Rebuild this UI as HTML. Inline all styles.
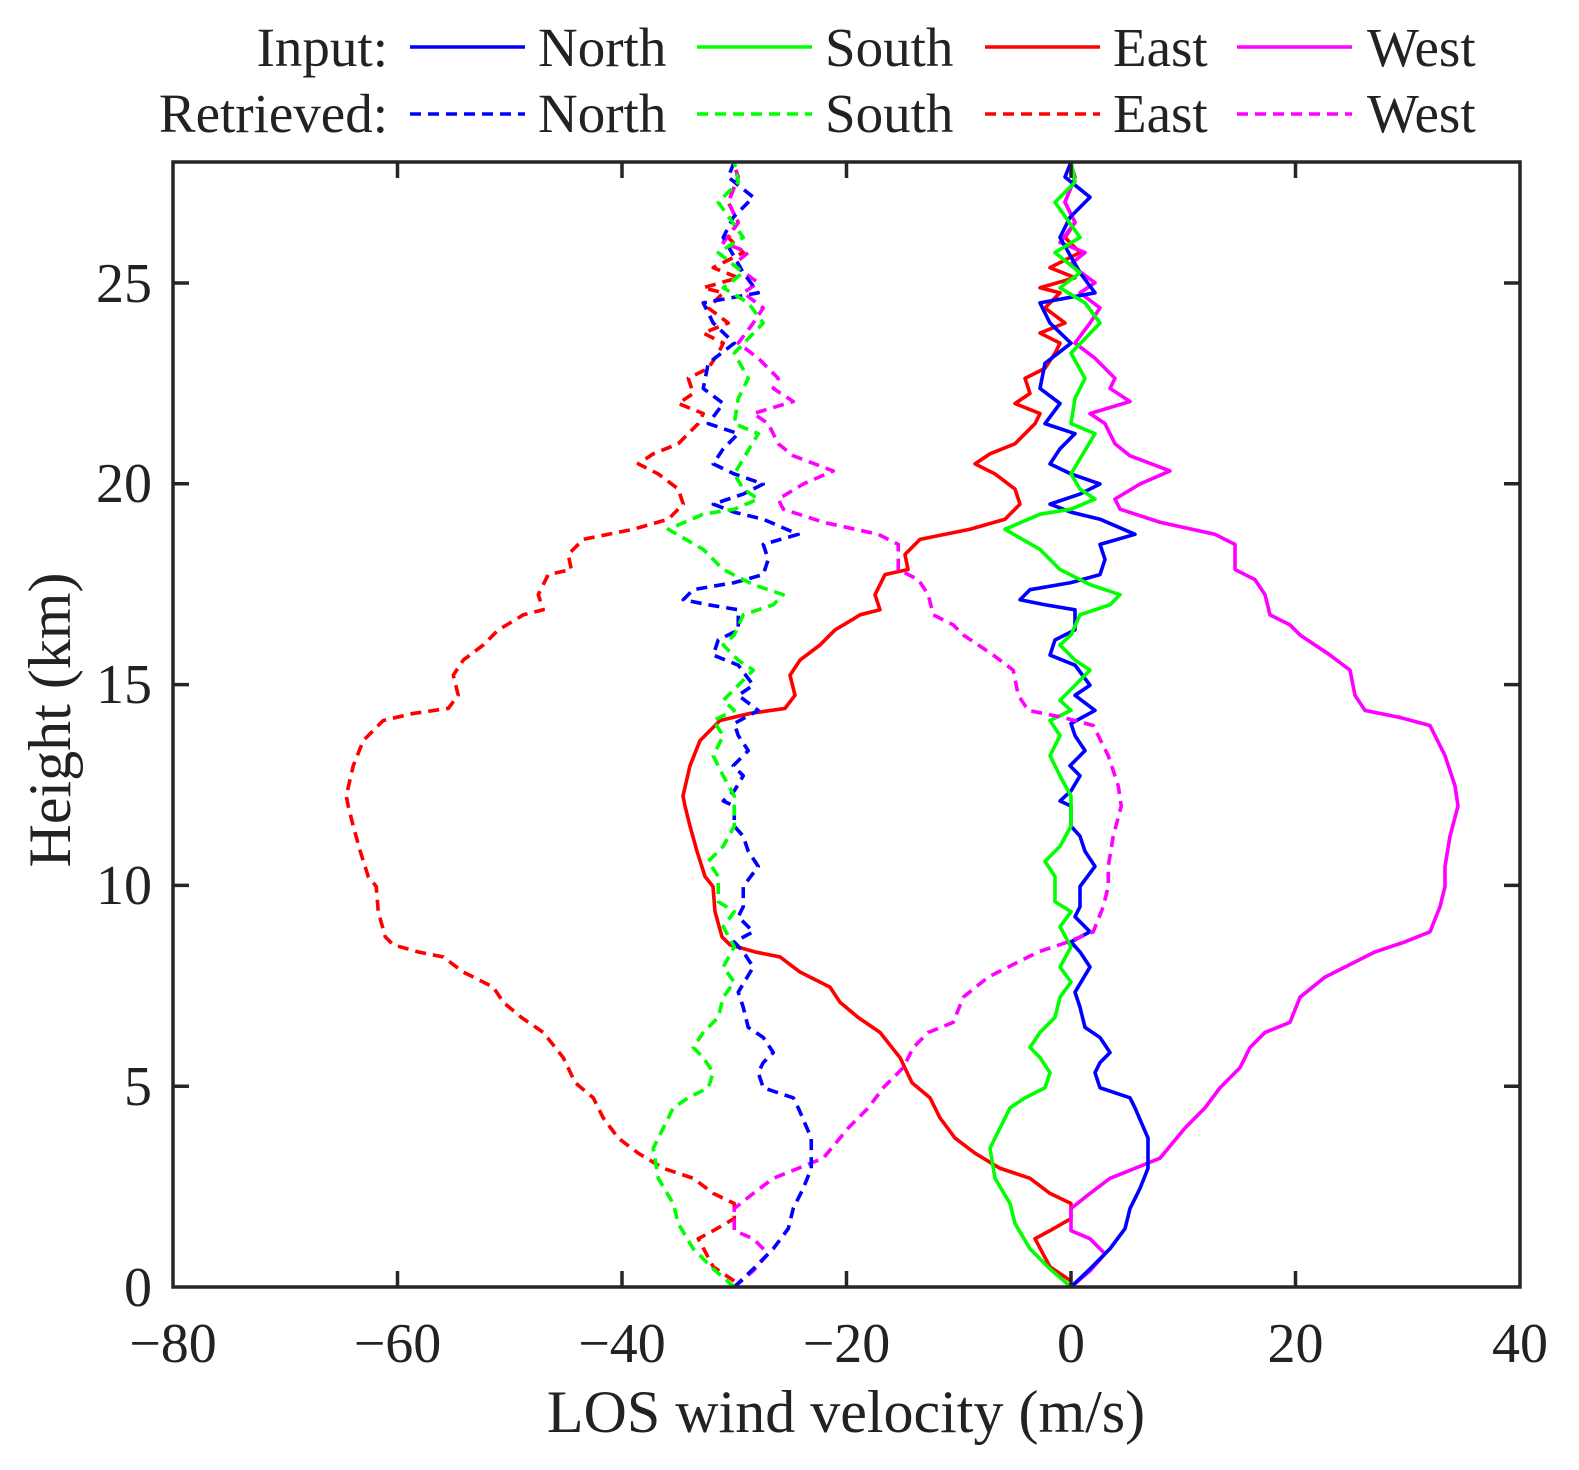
<!DOCTYPE html>
<html><head><meta charset="utf-8"><style>html,body{margin:0;padding:0;background:#fff}svg{display:block}</style></head>
<body>
<svg width="1579" height="1470" viewBox="0 0 1579 1470" xmlns="http://www.w3.org/2000/svg" font-family="Liberation Serif, serif" fill="#222">
<defs>
<g id="curves" fill="none" stroke-width="3.6" stroke-linejoin="round">
<polyline id="east" stroke="#ff0000" points="1071,1272 1050,1258 1035,1230 1050,1222 1071,1210 1071,1195 1050,1185 1030,1170 1000,1160 975,1145 955,1130 940,1110 930,1090 912,1075 900,1050 880,1025 858,1010 840,995 830,980 800,965 780,950 755,945 730,938 722,930 715,905 713,880 705,870 697,845 690,820 685,800 683,790 690,760 700,735 720,715 750,708 785,703 795,690 790,670 800,655 820,640 835,625 852,615 860,610 880,605 875,590 885,570 908,565 905,550 920,535 970,525 1005,515 1020,500 1015,485 995,470 975,460 990,450 1015,440 1025,430 1035,420 1040,410 1015,400 1030,390 1025,375 1045,365 1055,350 1060,340 1040,330 1065,320 1045,305 1060,290 1040,285 1075,275 1050,265 1080,250 1065,235 1075,220 1065,200 1075,175 1070,160"/>
<polyline stroke="#ff00ff" points="1071,1278 1090,1262 1105,1245 1090,1230 1071,1222 1071,1200 1090,1185 1110,1170 1135,1160 1160,1150 1185,1120 1205,1100 1220,1080 1240,1060 1250,1040 1265,1025 1290,1015 1300,990 1325,970 1345,960 1375,945 1405,935 1430,925 1440,900 1445,880 1445,860 1450,830 1458,800 1455,780 1445,750 1430,720 1400,712 1365,705 1355,690 1350,665 1330,650 1300,630 1290,620 1270,610 1265,590 1255,575 1235,565 1235,540 1215,530 1160,518 1120,505 1115,495 1140,480 1170,467 1130,452 1115,440 1105,420 1090,410 1130,398 1110,385 1115,375 1095,355 1075,340 1090,320 1100,305 1080,290 1095,280 1070,262 1085,250 1060,240 1075,220 1065,200 1075,175 1070,160"/>
<polyline stroke="#0000ff" points="1071,1278 1090,1260 1110,1240 1125,1220 1130,1200 1140,1180 1148,1160 1148,1130 1135,1100 1130,1090 1100,1080 1095,1065 1100,1055 1110,1045 1100,1030 1085,1020 1080,1000 1075,985 1090,960 1080,945 1071,935 1090,925 1075,910 1080,900 1080,880 1095,860 1085,845 1080,830 1071,820 1071,800 1060,795 1071,785 1080,770 1070,760 1085,745 1075,730 1071,718 1095,705 1075,690 1090,680 1075,660 1050,650 1055,635 1075,625 1075,605 1045,600 1020,595 1030,585 1071,578 1100,570 1105,555 1100,540 1135,530 1100,515 1071,508 1050,500 1080,490 1100,480 1071,470 1050,460 1060,445 1075,430 1045,420 1060,400 1040,385 1045,360 1071,340 1050,320 1040,300 1095,290 1080,270 1060,235 1070,215 1090,195 1065,175 1071,160"/>
<polyline stroke="#00ff00" points="1071,1278 1050,1260 1030,1240 1015,1215 1010,1195 995,1170 990,1140 1000,1120 1010,1100 1025,1090 1045,1080 1050,1065 1040,1050 1030,1040 1040,1025 1055,1010 1060,990 1071,975 1060,960 1071,940 1060,920 1071,905 1055,895 1055,870 1045,855 1060,840 1071,820 1071,790 1060,770 1050,750 1060,730 1050,715 1071,705 1060,695 1075,680 1090,665 1075,655 1060,640 1071,630 1080,610 1110,600 1120,590 1090,580 1060,565 1040,545 1005,525 1040,510 1071,505 1095,495 1080,485 1071,470 1080,455 1095,430 1071,420 1075,395 1085,375 1071,350 1100,320 1085,300 1060,285 1080,270 1055,250 1080,235 1055,200 1075,180 1071,160"/>
</g>
</defs>
<g transform="translate(0,1287) scale(1,1.00626) translate(0,-1278)">
<use href="#curves"/>
<g transform="translate(-336.75,0)" stroke-dasharray="11,7"><use href="#curves"/></g>
</g>
<rect x="173" y="162" width="1347" height="1125" fill="none" stroke="#262626" stroke-width="3.5"/>
<g stroke="#262626" stroke-width="3.5">
<path d="M397.5,1287v-16M622,1287v-16M846.5,1287v-16M1071,1287v-16M1295.5,1287v-16M397.5,162v16M622,162v16M846.5,162v16M1071,162v16M1295.5,162v16"/>
<path d="M173,1086.2h16M173,885.4h16M173,684.6h16M173,483.8h16M173,283h16M1520,1086.2h-16M1520,885.4h-16M1520,684.6h-16M1520,483.8h-16M1520,283h-16"/>
</g>
<g font-size="56" text-anchor="middle">
<text x="173" y="1362">−80</text><text x="397.5" y="1362">−60</text><text x="622" y="1362">−40</text><text x="846.5" y="1362">−20</text><text x="1071" y="1362">0</text><text x="1295.5" y="1362">20</text><text x="1520" y="1362">40</text>
</g>
<g font-size="56" text-anchor="end">
<text x="152" y="1306">0</text><text x="152" y="1105">5</text><text x="152" y="904">10</text><text x="152" y="703">15</text><text x="152" y="502">20</text><text x="152" y="302">25</text>
</g>
<text x="846" y="1432" font-size="60" text-anchor="middle">LOS wind velocity (m/s)</text>
<text transform="translate(70,720) rotate(-90)" font-size="60" text-anchor="middle">Height (km)</text>
<g font-size="55">
<text x="388" y="66" text-anchor="end">Input:</text>
<text x="388" y="132" text-anchor="end">Retrieved:</text>
<text x="538" y="66">North</text><text x="538" y="132">North</text>
<text x="825" y="66">South</text><text x="825" y="132">South</text>
<text x="1113" y="66">East</text><text x="1113" y="132">East</text>
<text x="1367" y="66">West</text><text x="1367" y="132">West</text>
</g>
<g stroke-width="3.6">
<path d="M410,47h115" stroke="#0000ff"/><path d="M410,114h115" stroke="#0000ff" stroke-dasharray="11,7"/>
<path d="M697,47h115" stroke="#00ff00"/><path d="M697,114h115" stroke="#00ff00" stroke-dasharray="11,7"/>
<path d="M985,47h115" stroke="#ff0000"/><path d="M985,114h115" stroke="#ff0000" stroke-dasharray="11,7"/>
<path d="M1237,47h115" stroke="#ff00ff"/><path d="M1237,114h115" stroke="#ff00ff" stroke-dasharray="11,7"/>
</g>
</svg>
</body></html>
